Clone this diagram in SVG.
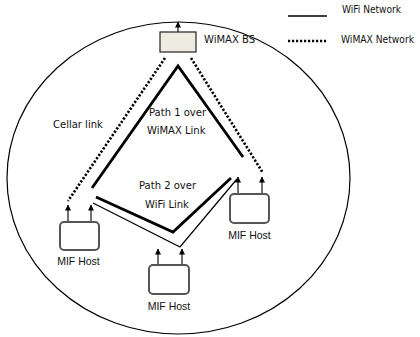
<svg xmlns="http://www.w3.org/2000/svg" width="420" height="337" viewBox="0 0 420 337">
<style>
.t{font-family:"DejaVu Sans",Verdana,sans-serif;font-size:10px;fill:#111}
.h{font-family:"Liberation Sans",Arial,sans-serif;font-size:10.5px;fill:#111;text-anchor:middle}
.box{fill:#fff;stroke:#555;stroke-width:2}
.arr{stroke:#111;stroke-width:1.2;fill:none;marker-end:url(#ah)}
.dot{stroke:#000;stroke-width:2.6;stroke-dasharray:2.2 1.8;fill:none}
.thin{stroke:#000;stroke-width:1.3;fill:none}
.thick{stroke:#000;stroke-width:2.8;fill:none;filter:url(#bl)}
</style>
<defs>
<marker id="ah" markerUnits="userSpaceOnUse" markerWidth="6" markerHeight="6" refX="5.5" refY="3" orient="auto">
<path d="M0,0 L6,3 L0,6 z" fill="#000"/>
</marker>
<filter id="bl" x="-10%" y="-10%" width="120%" height="120%">
<feGaussianBlur stdDeviation="0.7"/>
</filter>
</defs>
<rect width="420" height="337" fill="#fff"/>
<ellipse cx="178.5" cy="178" rx="171.5" ry="156" fill="none" stroke="#000" stroke-width="1.2"/>
<g id="connectors">
<path class="dot" d="M165,58 L68,201"/>
<path class="dot" d="M191,58 L263,173"/>
<path class="thick" d="M92,188 L178,66 L243,157"/>
<path class="thick" d="M96,197 L173,232 L231,178"/>
<path class="thin" d="M93,203 L180,247 L237,179"/>
<path class="arr" d="M178,32 L178,22"/>
<path class="arr" d="M68,222 L68,205"/>
<path class="arr" d="M91,222 L91,205"/>
<path class="arr" d="M158,265 L158,249"/>
<path class="arr" d="M182,265 L182,249"/>
<path class="arr" d="M238,194 L238,177"/>
<path class="arr" d="M262,194 L262,177"/>
</g>
<g id="wimax-bs">
<rect x="160" y="32" width="36" height="20" fill="#eeebe0" stroke="#222" stroke-width="1.2"/>
<text class="t" x="204" y="43">WiMAX BS</text>
</g>
<g id="host-left">
<rect class="box" x="60" y="222" width="39" height="28" rx="4"/>
<text class="h" x="78.5" y="265">MIF Host</text>
</g>
<g id="host-bottom">
<rect class="box" x="149" y="265" width="40" height="29" rx="4"/>
<text class="h" x="169" y="310">MIF Host</text>
</g>
<g id="host-right">
<rect class="box" x="230" y="194" width="39" height="29" rx="4"/>
<text class="h" x="249.5" y="239">MIF Host</text>
</g>
<g id="labels">
<text class="t" x="53" y="128">Cellar link</text>
<text class="t" x="149" y="116">Path 1 over</text>
<text class="t" x="147" y="134">WiMAX Link</text>
<text class="t" x="139" y="189">Path 2 over</text>
<text class="t" x="145" y="208">WiFi Link</text>
</g>
<g id="legend">
<path class="thin" d="M288,16 L327,16"/>
<text class="t" x="342" y="13" textLength="59" lengthAdjust="spacingAndGlyphs">WiFi Network</text>
<path class="dot" d="M288,41 L326,41"/>
<text class="t" x="341" y="43" textLength="73" lengthAdjust="spacingAndGlyphs">WiMAX Network</text>
</g>
</svg>
